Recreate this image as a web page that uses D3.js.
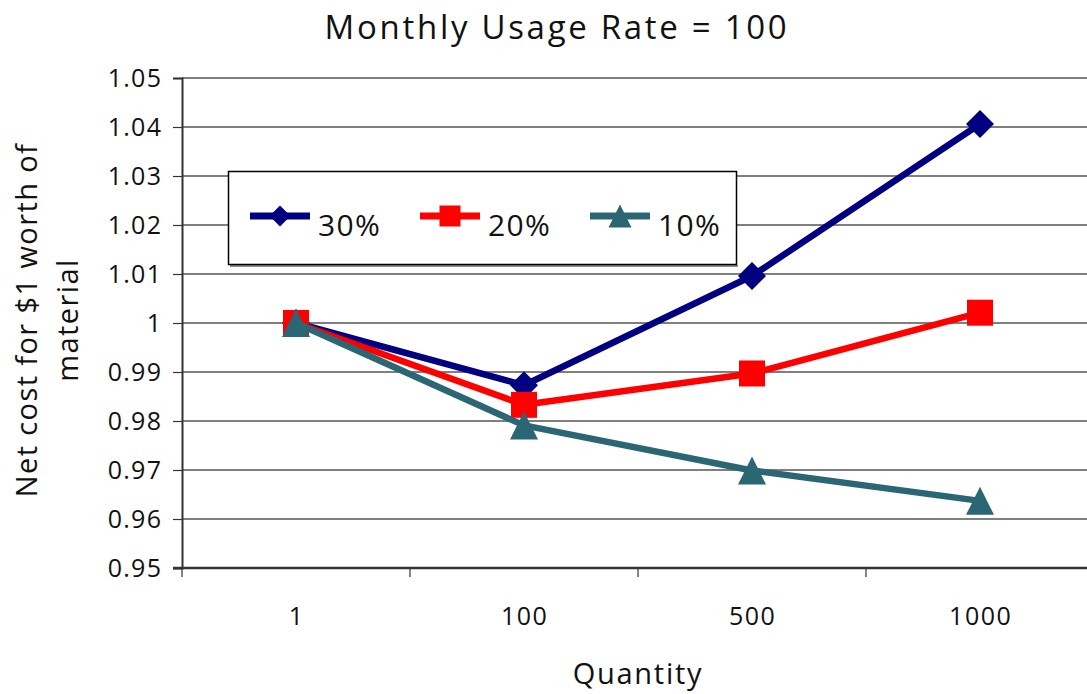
<!DOCTYPE html>
<html>
<head>
<meta charset="utf-8">
<script src="https://cdn.jsdelivr.net/npm/d3@7"></script>
<style>
  html, body { margin: 0; padding: 0; background: #fff; }
  svg { display: block; font-family: "Open Sans", "DejaVu Sans", sans-serif; }
</style>
</head>
<body>
<svg id="chart" width="1087" height="694"></svg>
<script>
// Quantity categories along the x axis
const quantities = ["1", "100", "500", "1000"];
// Net cost for $1 of material, by carrying-cost rate
const rate30 = [1.0, 0.9873, 1.0096, 1.0406];
const rate20 = [1.0, 0.9833, 0.9897, 1.0021];
const rate10 = [1.0, 0.9791, 0.9699, 0.9637];
const seriesNames = ["30%", "20%", "10%"];
const yTicks = [0.95, 0.96, 0.97, 0.98, 0.99, 1, 1.01, 1.02, 1.03, 1.04, 1.05];

const series = [
  { name: seriesNames[0], values: rate30, color: "#000080", marker: "diamond" },
  { name: seriesNames[1], values: rate20, color: "#ff0000", marker: "square" },
  { name: seriesNames[2], values: rate10, color: "#2a6673", marker: "triangle" }
];

const svg = d3.select("#chart");
const plot = { left: 182, right: 1094, top: 78, bottom: 568 };

const x = d3.scaleBand().domain(quantities).range([plot.left, plot.right]).padding(0);
const y = d3.scaleLinear().domain([0.95, 1.05]).range([plot.bottom, plot.top]);
const cx = q => x(q) + x.bandwidth() / 2;

// Horizontal gridlines
svg.append("g")
  .selectAll("line")
  .data(yTicks.filter(v => v !== 0.95))
  .join("line")
  .attr("x1", plot.left).attr("x2", 1087)
  .attr("y1", d => y(d)).attr("y2", d => y(d))
  .attr("stroke", "#555").attr("stroke-width", 1.4);

// Y axis
const yAxis = svg.append("g")
  .attr("transform", `translate(${plot.left},0)`)
  .call(d3.axisLeft(y).tickValues(yTicks).tickSize(9).tickPadding(12)
    .tickFormat(d => d3.format("~")(+d.toFixed(2))));
yAxis.select(".domain").attr("stroke", "#333").attr("stroke-width", 2);
yAxis.selectAll(".tick line").attr("stroke", "#333").attr("stroke-width", 1.2);
yAxis.selectAll(".tick text").attr("font-size", 25).attr("fill", "#111")
  .attr("font-family", "\"Open Sans\", sans-serif")
  .attr("letter-spacing", 1.3).attr("dx", 1.3);

// X axis with ticks between categories
const xg = svg.append("g");
xg.append("line")
  .attr("x1", plot.left - 9).attr("x2", 1087)
  .attr("y1", plot.bottom).attr("y2", plot.bottom)
  .attr("stroke", "#333").attr("stroke-width", 2.5);
xg.selectAll("line.tk")
  .data(quantities)
  .join("line")
  .attr("class", "tk")
  .attr("x1", d => x(d)).attr("x2", d => x(d))
  .attr("y1", plot.bottom).attr("y2", plot.bottom + 9)
  .attr("stroke", "#333").attr("stroke-width", 1.2);
xg.selectAll("text")
  .data(quantities)
  .join("text")
  .attr("x", d => cx(d) + 0.7).attr("y", 625)
  .attr("text-anchor", "middle")
  .attr("font-size", 25).attr("fill", "#111")
  .attr("letter-spacing", 1.5)
  .text(d => d);

// Marker shapes
function markerPath(type, s) {
  const h = s / 2;
  if (type === "diamond") return `M0,${-h}L${h},0L0,${h}L${-h},0Z`;
  if (type === "square") return `M${-h},${-h}H${h}V${h}H${-h}Z`;
  return `M0,${-h}L${h},${h}L${-h},${h}Z`;
}
const markerSize = { diamond: 28, square: 26, triangle: 28 };

// Series lines and markers
const line = d3.line().x((d, i) => cx(quantities[i])).y(d => y(d));
series.forEach(s => {
  const g = svg.append("g");
  g.append("path")
    .datum(s.values)
    .attr("d", line)
    .attr("fill", "none")
    .attr("stroke", s.color)
    .attr("stroke-width", 6.5)
    .attr("stroke-linejoin", "round");
  g.selectAll("path.mk")
    .data(s.values)
    .join("path")
    .attr("class", "mk")
    .attr("transform", (d, i) => `translate(${cx(quantities[i])},${y(d)})`)
    .attr("d", markerPath(s.marker, markerSize[s.marker]))
    .attr("fill", s.color);
});

// Legend
const leg = svg.append("g");
leg.append("rect")
  .attr("x", 230).attr("y", 265).attr("width", 508).attr("height", 2)
  .attr("fill", "#888");
leg.append("rect")
  .attr("x", 228.5).attr("y", 171.5).attr("width", 508).attr("height", 93)
  .attr("fill", "#fff").attr("stroke", "#000").attr("stroke-width", 1.5);
const legX = [250, 420, 590];
const legMarker = { diamond: 21, square: 21, triangle: 23 };
series.forEach((s, i) => {
  const lx = legX[i];
  leg.append("line")
    .attr("x1", lx).attr("x2", lx + 60)
    .attr("y1", 216).attr("y2", 216)
    .attr("stroke", s.color).attr("stroke-width", 7);
  leg.append("path")
    .attr("transform", `translate(${lx + 30},216)`)
    .attr("d", markerPath(s.marker, legMarker[s.marker]))
    .attr("fill", s.color);
  leg.append("text")
    .attr("x", lx + 68).attr("y", 236)
    .attr("font-size", 30).attr("fill", "#111")
    .attr("letter-spacing", 1.3)
    .text(s.name);
});

// Titles
svg.append("text")
  .attr("x", 557).attr("y", 39)
  .attr("text-anchor", "middle")
  .attr("font-size", 33).attr("fill", "#111")
  .attr("letter-spacing", 2.7)
  .text("Monthly Usage Rate = 100");

svg.append("text")
  .attr("x", 638).attr("y", 684)
  .attr("text-anchor", "middle")
  .attr("font-size", 29).attr("fill", "#111")
  .attr("letter-spacing", 1.7)
  .text("Quantity");

const yt = svg.append("text")
  .attr("transform", "translate(0,320) rotate(-90)")
  .attr("text-anchor", "middle")
  .attr("font-size", 29).attr("fill", "#111")
  .attr("letter-spacing", 1.4);
yt.append("tspan").attr("x", 0).attr("y", 37).text("Net cost for $1 worth of");
yt.append("tspan").attr("x", 0).attr("y", 78).text("material");
</script>
</body>
</html>
